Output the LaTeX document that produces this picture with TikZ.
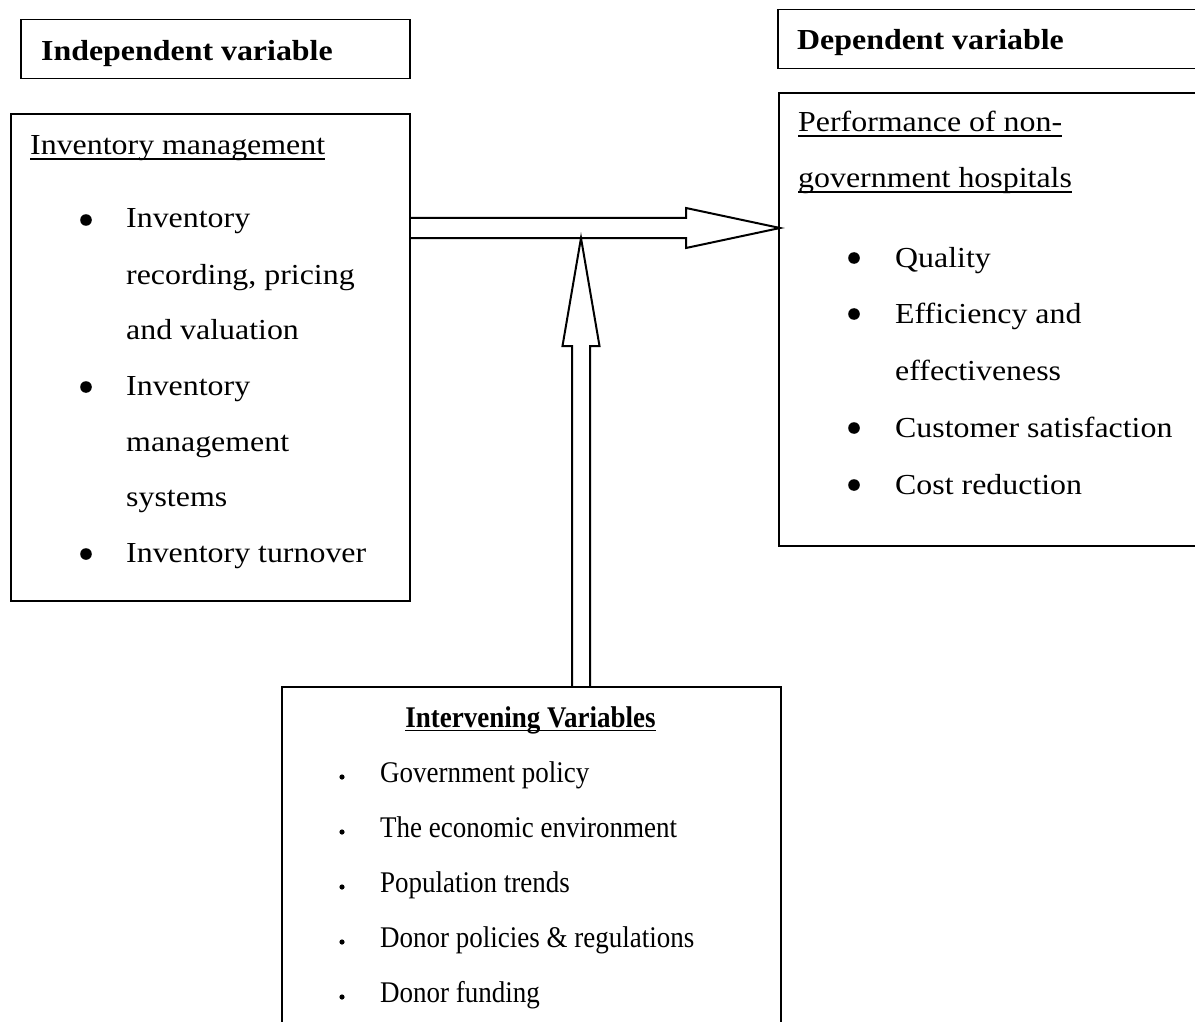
\documentclass[tikz,border=0pt]{standalone}
\usepackage{fontspec}
\setmainfont[FakeStretch=1.1]{Liberation Serif}
\newfontfamily\narrowserif[FakeStretch=0.9]{Liberation Serif}
\usetikzlibrary{calc}
\begin{document}
\begin{tikzpicture}[x=1pt,y=-1pt,
  frame/.style={draw=black,line width=2pt,inner sep=0pt,anchor=north west},
  headframe/.style={draw=black,line width=1.5pt,inner sep=0pt,anchor=north west},
  body/.style={inner sep=0pt,anchor=base west,font=\fontsize{29}{35}\selectfont},
  head/.style={body,font=\fontsize{29}{35}\selectfont\bfseries},
  small/.style={inner sep=0pt,anchor=base west,font=\narrowserif\fontsize{30}{36}\selectfont},
  smallhead/.style={inner sep=0pt,anchor=base,font=\narrowserif\fontsize{30}{36}\selectfont\bfseries},
  uline/.style={line width=1.8pt},
  blockarrow/.style={draw=black,line width=2pt,line join=miter}]

\path[use as bounding box,fill=white] (0,0) rectangle (1195,1022);

% boxes
\node[headframe,minimum width=389pt,minimum height=59pt] (indep) at (20,19) {};
\node[headframe,minimum width=430pt,minimum height=59pt] (dep) at (777,9) {};
\node[frame,minimum width=399pt,minimum height=487pt] (invbox) at (10,113) {};
\node[frame,minimum width=430pt,minimum height=453pt] (perfbox) at (778,92) {};
\node[frame,minimum width=499pt,minimum height=400pt] (intbox) at (281,686) {};

% headers
\node[head] (indeptxt) at (41,61) {Independent variable};
\node[head] (deptxt) at (797,50) {Dependent variable};

% inventory management
\node[body] (invtitle) at (30,155) {Inventory management};
\draw[uline] ($(invtitle.base west)+(0,4)$) -- ($(invtitle.base east)+(0,4)$);
\node[body] (inv1a) at (126,228) {Inventory};
\node[body] (inv1b) at (126,284) {recording, pricing};
\node[body] (inv1c) at (126,339) {and valuation};
\node[body] (inv2a) at (126,395) {Inventory};
\node[body] (inv2b) at (126,451) {management};
\node[body] (inv2c) at (126,506) {systems};
\node[body] (inv3) at (126,562) {Inventory turnover};
\foreach \n in {inv1a,inv2a,inv3}
  \fill ($(\n.base west)+(-40,-8)$) circle (5.8pt);

% performance
\node[body] (perf1) at (798,132) {Performance of non-};
\node[body] (perf2) at (798,188) {government hospitals};
\draw[uline] ($(perf1.base west)+(0,4)$) -- ($(perf1.base east)+(0,4)$);
\draw[uline] ($(perf2.base west)+(0,4)$) -- ($(perf2.base east)+(0,4)$);
\node[body] (q) at (895,267) {Quality};
\node[body] (ea) at (895,323) {Efficiency and};
\node[body] (eb) at (895,380) {effectiveness};
\node[body] (cs) at (895,437) {Customer satisfaction};
\node[body] (cr) at (895,494) {Cost reduction};
\foreach \n in {q,ea,cs,cr}
  \fill ($(\n.base west)+(-41,-9)$) circle (5.8pt);

% intervening variables
\node[smallhead] (inttitle) at (530.5,727) {Intervening Variables};
\draw[uline] ($(inttitle.base west)+(0,3.5)$) -- ($(inttitle.base east)+(0,3.5)$);
\node[small] (iv1) at (380,782) {Government policy};
\node[small] (iv2) at (380,837) {The economic environment};
\node[small] (iv3) at (380,892) {Population trends};
\node[small] (iv4) at (380,947) {Donor policies \& regulations};
\node[small] (iv5) at (380,1002) {Donor funding};
\foreach \n in {iv1,iv2,iv3,iv4,iv5}
  \fill ($(\n.base west)+(-38,-5)$) circle (2.6pt);

% block arrows
\coordinate (hs) at (invbox.east |- 0,228);
\coordinate (ht) at ($(perfbox.west |- 0,228)+(2,0)$);
\draw[blockarrow] ($(hs)+(0,-10)$) -- ($(ht)+(-94,-10)$) -- ($(ht)+(-94,-20)$)
  -- (ht) -- ($(ht)+(-94,20)$) -- ($(ht)+(-94,10)$) -- ($(hs)+(0,10)$);

\coordinate (vb) at (581,0 |- intbox.north);
\coordinate (vx) at (581,0 |- hs);
\coordinate (vt) at ($(vx)+(0,10)$);
\draw[blockarrow] ($(vb)+(-9,0)$) -- ($(vt)+(-9,108)$) -- ($(vt)+(-18.5,108)$)
  -- (vt) -- ($(vt)+(18.5,108)$) -- ($(vt)+(9,108)$) -- ($(vb)+(9,0)$);
\end{tikzpicture}
\end{document}
